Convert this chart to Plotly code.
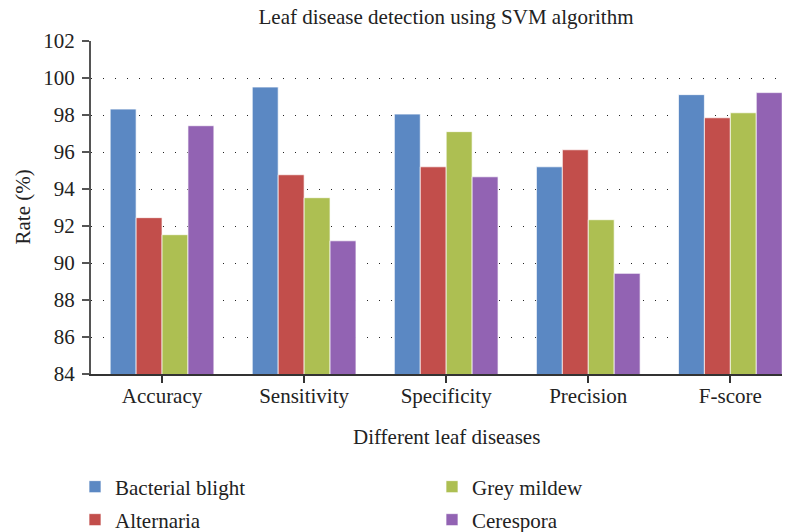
import plotly.graph_objects as go

categories = ["Accuracy", "Sensitivity", "Specificity", "Precision", "F-score"]
bacterial_blight = [98.32, 99.51, 98.05, 95.2, 99.1]
alternaria = [92.45, 94.77, 95.2, 96.12, 97.85]
grey_mildew = [91.53, 93.53, 97.1, 92.34, 98.12]
cerespora = [97.42, 91.2, 94.66, 89.44, 99.21]

series = [
    ("Bacterial blight", bacterial_blight, "#5B88C3", "legend", 1),
    ("Alternaria", alternaria, "#C24E4B", "legend2", 3),
    ("Grey mildew", grey_mildew, "#ADBF52", "legend", 2),
    ("Cerespora", cerespora, "#9263B3", "legend2", 4),
]

FONT = "Liberation Serif"
fig = go.Figure()
for name, vals, color, leg, rank in series:
    fig.add_trace(go.Bar(
        x=categories, y=vals, name=name, legend=leg, legendrank=rank,
        marker=dict(color=color, line=dict(color="rgba(255,255,255,0.7)", width=1)),
    ))

# page body has an 8px margin; compensate so screen positions match
OFF = 8
W, H = 790 - OFF, 532 - OFF
SX0, SX1, SY0, SY1 = 91, 790, 41, 374  # plot area on screen
L, T = SX0 - OFF, SY0 - OFF
PW, PH = SX1 - SX0, SY1 - SY0
B = H - T - PH


def px(sx):
    return (sx - SX0) / PW


def py(sy):
    return (SY1 - sy) / PH


fs = 21
fig.update_layout(
    width=W, height=H,
    margin=dict(l=L, r=0, t=T, b=B, autoexpand=False),
    plot_bgcolor="white", paper_bgcolor="white",
    barmode="group", bargap=0.27, bargroupgap=0,
    font=dict(family=FONT, size=fs, color="#222"),
    title=dict(text="Leaf disease detection using SVM algorithm", x=px(446), xref="paper",
               xanchor="center", y=1 - (17 - OFF) / H, yref="container", yanchor="middle",
               font=dict(family=FONT, size=fs, color="#222")),
    xaxis=dict(range=[-0.5, 4.42], showline=True, linecolor="#333", linewidth=2,
               ticks="outside", ticklen=7, tickwidth=2, tickcolor="#333",
               showgrid=False, tickfont=dict(family=FONT, size=fs, color="#222"),
               ticklabelstandoff=-5),
    yaxis=dict(range=[84, 102], dtick=2, showline=True, linecolor="#555", linewidth=2,
               ticks="outside", ticklen=7, tickwidth=2, tickcolor="#555",
               showgrid=True, gridcolor="#222", gridwidth=1, griddash="1px,11px",
               zeroline=False, tickfont=dict(family=FONT, size=fs, color="#222"),
               ticklabelstandoff=3),
    legend=dict(orientation="h", x=px(75), xanchor="left", y=py(487),
                yanchor="middle", entrywidth=312, font=dict(family=FONT, size=fs),
                bgcolor="rgba(0,0,0,0)"),
    legend2=dict(orientation="h", x=px(75), xanchor="left", y=py(520),
                 yanchor="middle", entrywidth=312, font=dict(family=FONT, size=fs),
                 bgcolor="rgba(0,0,0,0)"),
    annotations=[
        dict(text="Different leaf diseases", x=px(446), y=py(437),
             xref="paper", yref="paper", showarrow=False, xanchor="center",
             yanchor="middle", font=dict(family=FONT, size=fs)),
        dict(text="Rate (%)", x=px(22), y=0.5, xref="paper", yref="paper",
             showarrow=False, textangle=-90, xanchor="center", yanchor="middle",
             font=dict(family=FONT, size=fs)),
    ],
)

fig.write_html("out.html")
